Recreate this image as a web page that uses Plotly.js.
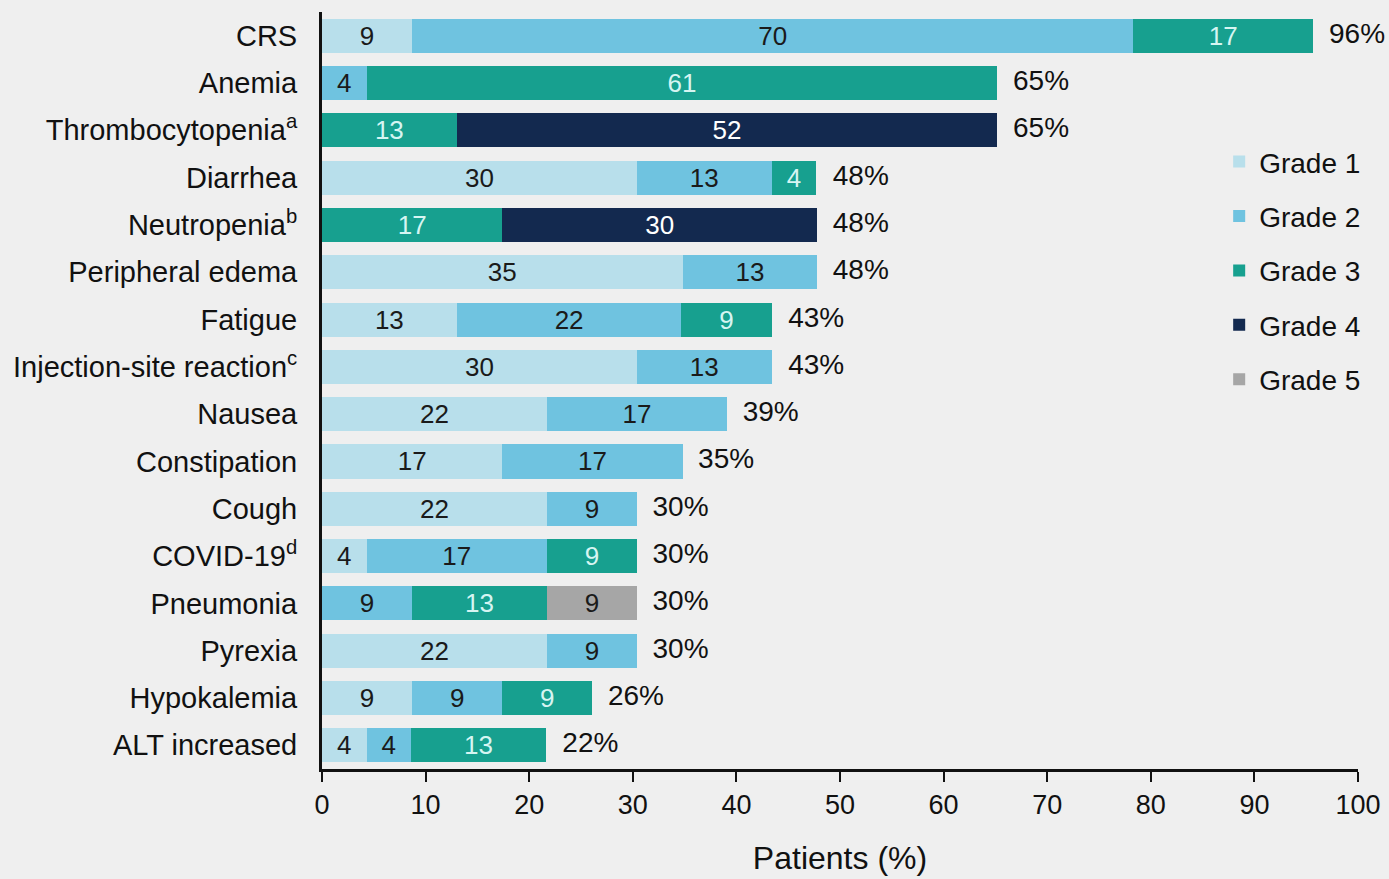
<!DOCTYPE html>
<html><head><meta charset="utf-8">
<script src="https://cdn.plot.ly/plotly-3.0.1.min.js"></script>
<style>html,body{margin:0;padding:0;background:#efefef;}</style>
</head><body><div id="chart" style="width:1389px;height:879px;"></div>
<script>
const categories = ["CRS","Anemia","Thrombocytopenia<sup>a</sup>","Diarrhea","Neutropenia<sup>b</sup>","Peripheral edema","Fatigue","Injection-site reaction<sup>c</sup>","Nausea","Constipation","Cough","COVID-19<sup>d</sup>","Pneumonia","Pyrexia","Hypokalemia","ALT increased"];
// percentages (n=23); null = no segment
const grade1 = [8.7, null, null, 30.4, null, 34.8, 13.0, 30.4, 21.7, 17.4, 21.7, 4.3, null, 21.7, 8.7, 4.3];
const grade2 = [69.6, 4.3, null, 13.0, null, 13.0, 21.7, 13.0, 17.4, 17.4, 8.7, 17.4, 8.7, 8.7, 8.7, 4.3];
const grade3 = [17.4, 60.9, 13.0, 4.3, 17.4, null, 8.7, null, null, null, null, 8.7, 13.0, null, 8.7, 13.0];
const grade4 = [null, null, 52.2, null, 30.4, null, null, null, null, null, null, null, null, null, null, null];
const grade5 = [null, null, null, null, null, null, null, null, null, null, null, null, 8.7, null, null, null];
const totals = [95.7, 65.2, 65.2, 47.8, 47.8, 47.8, 43.5, 43.5, 39.1, 34.8, 30.4, 30.4, 30.4, 30.4, 26.1, 21.7];
const totalLabels = ["96%","65%","65%","48%","48%","48%","43%","43%","39%","35%","30%","30%","30%","30%","26%","22%"];
const gradeNames = ["Grade 1","Grade 2","Grade 3","Grade 4","Grade 5"];

const series = [grade1, grade2, grade3, grade4, grade5];
const colors = ["#b8dfeb","#6fc3e0","#17a08f","#13294f","#a6a6a6"];
const textColors = ["#1a1a1a","#1a1a1a","#d6f5f2","#ffffff","#1a1a1a"];
const FONT = "Liberation Sans, Arial, sans-serif";

const traces = series.map((vals, i) => {
  const idx = vals.map((v, k) => v == null ? -1 : k).filter(k => k >= 0);
  return {
    type: "bar", orientation: "h", name: gradeNames[i],
    y: idx.map(k => categories[k]), x: idx.map(k => vals[k]),
    text: idx.map(k => String(Math.round(vals[k]))),
    texttemplate: "%{text}",
    textposition: "inside", insidetextanchor: "middle", textangle: 0,
    constraintext: "none",
    insidetextfont: {family: FONT, size: 26, color: textColors[i]},
    marker: {color: colors[i], line: {width: 0}},
    legendgroup: "g" + i,
    hoverinfo: "x+y+name"
  };
});
traces.push({
  type: "scatter", mode: "text", y: categories, x: totals,
  text: totalLabels.map(t => "  " + t), textposition: "middle right",
  textfont: {family: FONT, size: 28, color: "#111"},
  showlegend: false, hoverinfo: "skip", cliponaxis: false
});

const layout = {
  width: 1389, height: 879,
  paper_bgcolor: "#efefef", plot_bgcolor: "#efefef",
  margin: {l: 322, r: 31, t: 12, b: 110},
  barmode: "stack", bargap: 0.28,
  font: {family: FONT, color: "#111"},
  xaxis: {
    range: [0, 100], dtick: 10, tick0: 0, showgrid: false, zeroline: false,
    showline: true, linecolor: "#111", linewidth: 3,
    ticks: "outside", ticklen: 10, tickwidth: 2, tickcolor: "#111",
    tickfont: {family: FONT, size: 27, color: "#111"},
    title: {text: "Patients (%)", font: {family: FONT, size: 32, color: "#111"}, standoff: 28}
  },
  yaxis: {
    type: "category", range: [15.5, -0.5], autorange: false,
    categoryorder: "array", categoryarray: categories,
    showgrid: false, zeroline: false,
    showline: true, linecolor: "#111", linewidth: 3, ticks: "",
    ticklabelstandoff: 16,
    tickfont: {family: FONT, size: 29, color: "#111"}
  },
  legend: {
    x: 0.866, y: 0.835, xanchor: "left", yanchor: "top",
    bgcolor: "rgba(0,0,0,0)", traceorder: "grouped", tracegroupgap: 15,
    font: {family: FONT, size: 28, color: "#111"},
    itemwidth: 30
  },
  showlegend: true
};
Plotly.newPlot("chart", traces, layout, {displayModeBar: false, staticPlot: true});
</script></body></html>
